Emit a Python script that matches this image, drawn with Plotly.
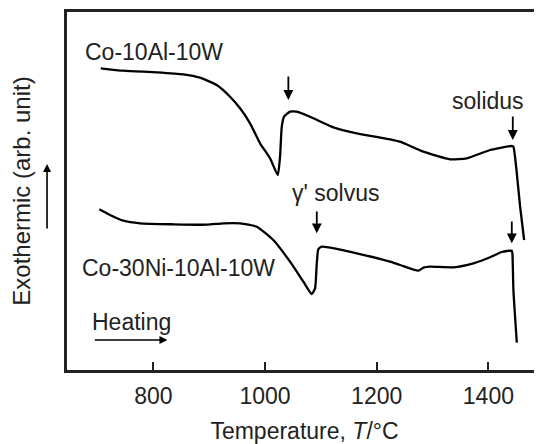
import plotly.graph_objects as go

# Co-10Al-10W DSC heating curve (temperature in degC, signal in arb. units)
t1 = [705.8, 746.3, 806.1, 853.7, 883.6, 913.5, 937.4, 955.3, 973.2, 991.1,
      1009.0, 1022.8, 1026.9, 1030.0, 1034.1, 1044.8, 1056.8, 1080.6, 1122.4,
      1164.3, 1224.0, 1241.9, 1283.6, 1331.4, 1361.3, 1403.1, 1441.9, 1444.8,
      1450.9, 1456.8, 1464.0]
s1 = [30.17, 29.93, 29.77, 29.57, 29.23, 28.5, 27.33, 26.17, 24.67, 22.67,
      21.17, 19.5, 21.33, 24.33, 25.33, 25.83, 25.83, 25.33, 24.27,
      23.67, 23.07, 22.83, 21.83, 21.07, 21.17, 22.0, 22.4, 22.33,
      19.67, 16.33, 13.0]

# Co-30Ni-10Al-10W DSC heating curve
t2 = [703.3, 722.4, 746.3, 776.2, 835.8, 895.6, 925.4, 955.3, 985.2, 1014.9,
      1044.8, 1068.7, 1083.7, 1089.6, 1092.7, 1095.5, 1101.6, 1113.4, 1164.3,
      1224.0, 1241.9, 1274.6, 1283.6, 1295.6, 1337.3, 1373.1, 1403.1, 1424.0,
      1441.9, 1443.0, 1444.8, 1450.9]
s2 = [16.07, 15.5, 14.93, 14.67, 14.57, 14.53, 14.67, 14.67, 14.33, 13.0,
      10.83, 8.83, 7.6, 8.17, 10.67, 12.07, 12.33, 12.27, 11.67,
      10.83, 10.5, 9.93, 10.23, 10.33, 10.27, 10.67, 11.27, 11.8,
      11.93, 11.67, 8.0, 2.73]

x_ticks = [800, 1000, 1200, 1400]
x_range = [645.4, 1496]
y_range = [0, 35.8]

# arrows: (x, y_tail, y_head)
mark_arrows = [(1041.8, 29.5, 27.0), (1443.7, 25.5, 23.0),
               (1092.7, 16.0, 13.67), (1441.9, 15.0, 12.67)]

labels = [("Co-10Al-10W", 801.3, 31.83), ("Co-30Ni-10Al-10W", 844.4, 10.2),
          ("γ' solvus", 1125.4, 17.7), ("solidus", 1400.0, 26.93),
          ("Heating", 761.3, 4.83)]

FONT = "Liberation Sans, Arial, sans-serif"

fig = go.Figure()
for t, s in [(t1, s1), (t2, s2)]:
    fig.add_trace(go.Scatter(x=t, y=s, mode="lines",
                             line=dict(color="black", width=2.3, shape="spline", smoothing=0.5),
                             showlegend=False, hoverinfo="skip"))

anns = []
for x, yt, yh in mark_arrows:
    anns.append(dict(x=x, y=yh, ax=x, ay=yt, xref="x", yref="y", axref="x", ayref="y",
                     text="", showarrow=True, arrowhead=2, arrowsize=1.1,
                     arrowwidth=1.8, arrowcolor="black"))
# heating arrow
anns.append(dict(x=825.2, y=3.0, ax=692.6, ay=3.0, xref="x", yref="y", axref="x", ayref="y",
                 text="", showarrow=True, arrowhead=2, arrowsize=1.0,
                 arrowwidth=1.6, arrowcolor="black"))
# exothermic arrow (left margin)
anns.append(dict(x=-0.042, y=20.6, xref="paper", yref="y", ax=0, ay=66,
                 text="", showarrow=True, arrowhead=2, arrowsize=1.0,
                 arrowwidth=1.6, arrowcolor="black"))
for txt, x, y in labels:
    anns.append(dict(x=x, y=y, xref="x", yref="y", text=txt, showarrow=False,
                     xanchor="center", yanchor="middle",
                     font=dict(family=FONT, size=23, color="#222")))

# page body has an 8px margin, so the figure is sized to fill the rest of the window
fig.update_layout(
    width=534, height=436,
    margin=dict(l=59, r=0, t=4, b=74),
    paper_bgcolor="white", plot_bgcolor="white",
    font=dict(family=FONT, size=23, color="#222"),
    annotations=anns,
    xaxis=dict(range=x_range, tickvals=x_ticks, ticks="inside", ticklen=8,
               tickwidth=2, tickcolor="#222", showline=True, linecolor="#222",
               linewidth=3, mirror=True, showgrid=False, zeroline=False,
               automargin=False, tickfont=dict(size=23), ticklabelstandoff=3,
               title=dict(text="Temperature, <i>T</i>/°C", font=dict(size=23), standoff=20)),
    yaxis=dict(range=y_range, showticklabels=False, ticks="", showline=True,
               linecolor="#222", linewidth=3, mirror=False, showgrid=False,
               zeroline=False, automargin=False,
               title=dict(text="Exothermic (arb. unit)", font=dict(size=24), standoff=30)),
)

fig.write_html("out.html")
